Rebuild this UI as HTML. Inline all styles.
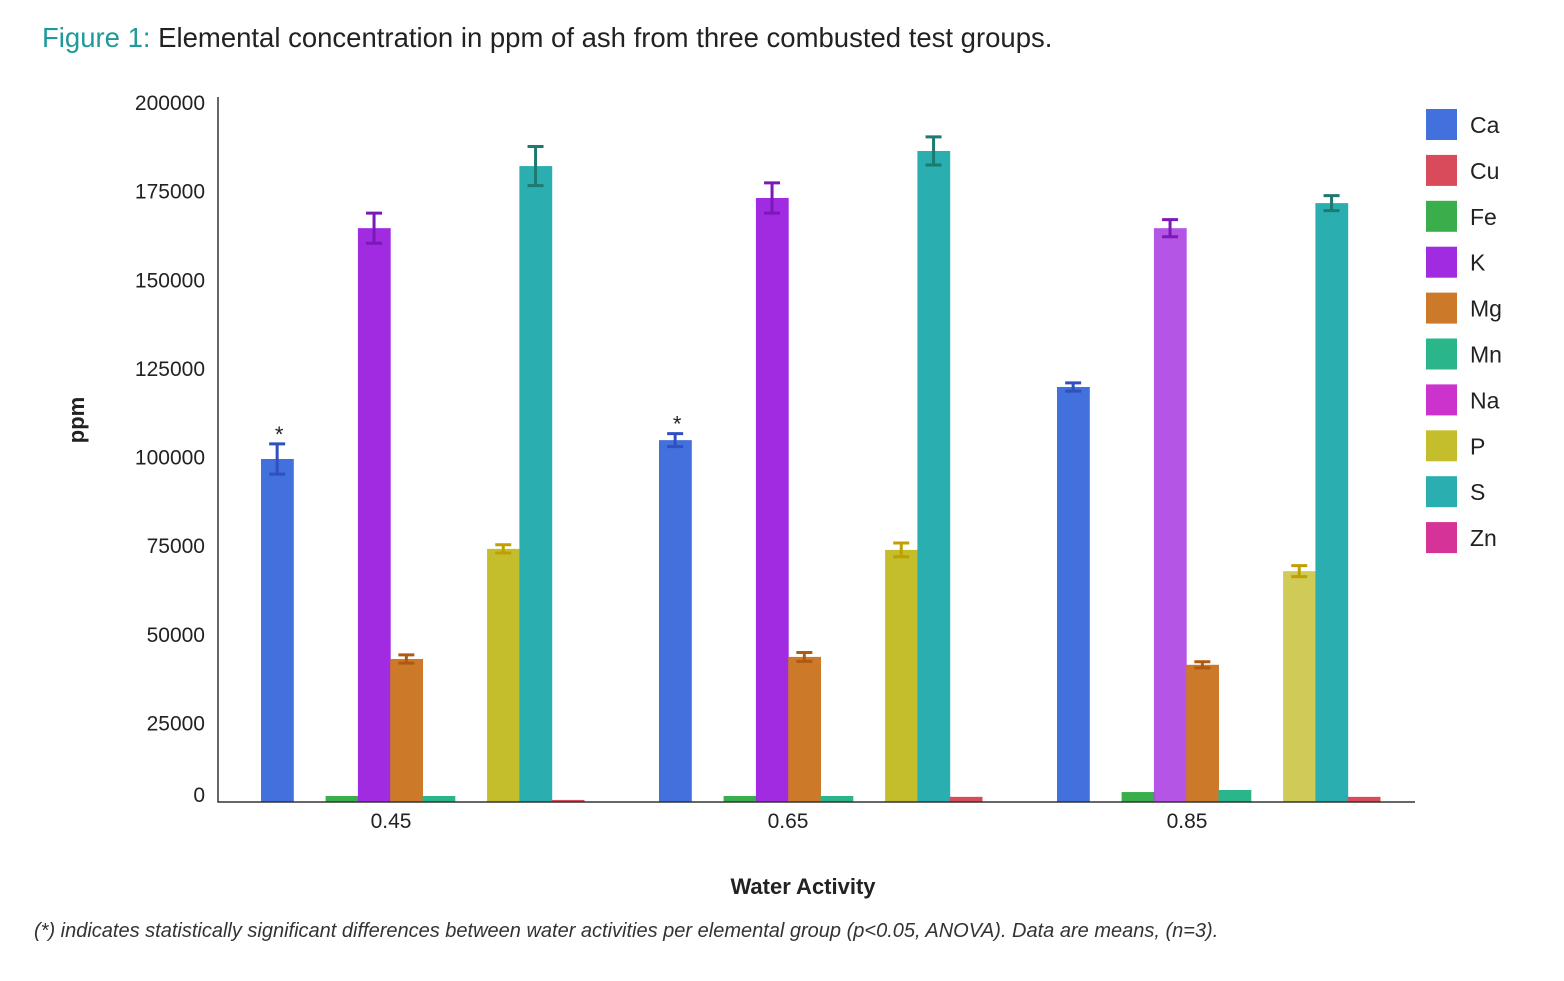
<!DOCTYPE html>
<html><head><meta charset="utf-8"><style>
body{margin:0;background:#fff;width:1564px;height:976px;overflow:hidden;font-family:"Liberation Sans",sans-serif}
</style></head><body>
<svg id="chart" width="1564" height="976" xmlns="http://www.w3.org/2000/svg" font-family="Liberation Sans, sans-serif">
<text x="42" y="47" font-size="27.5" fill="#222"><tspan fill="#1f9a9a">Figure 1:</tspan> Elemental concentration in ppm of ash from three combusted test groups.</text>
<text transform="translate(84,420) rotate(-90)" text-anchor="middle" font-size="22" font-weight="bold" fill="#222">ppm</text>
<text x="803" y="894" text-anchor="middle" font-size="22" font-weight="bold" fill="#222">Water Activity</text>
<text x="34" y="937" font-size="20" font-style="italic" fill="#333">(*) indicates statistically significant differences between water activities per elemental group (p&lt;0.05, ANOVA). Data are means, (n=3).</text>
<g id="plot"></g>
</svg>
<script>
const groups=["0.45","0.65","0.85"];
const elements=["Ca","Cu","Fe","K","Mg","Mn","Na","P","S","Zn"];
const colors=["#4270dd","#d94a5a","#3aae4a","#a12be0","#cc7a2a","#2bb58a","#cc33cc","#c4bd2c","#2aaeb0","#d63399"];
const errColors=["#3050c0","#b03040","#2a8a3a","#7a18b8","#b05a10","#1a9070","#a020a0","#c0a000","#1e7a70","#a02070"];
const vals045=[100000,0,1750,167300,41700,1750,0,73800,185400,600];
const vals065=[105500,0,1750,176100,42300,1750,0,73500,189800,1500];
const vals085=[121000,0,2900,167300,40000,3500,0,67300,174600,1500];
const err045=[4400,0,0,4400,1200,0,0,1200,5700,0];
const err065=[1900,0,0,4400,1300,0,0,2000,4100,0];
const err085=[1200,0,0,2500,900,0,0,1600,2200,0];
const yTicks=[0,25000,50000,75000,100000,125000,150000,175000,200000];
const starGroups=[0,1];
const values=[vals045,vals065,vals085], errs=[err045,err065,err085];
const NS="http://www.w3.org/2000/svg";
const g=document.getElementById('plot');
const base=802, k=0.00343, x0=218;
const y=v=>base-v*k;
const labelY=t=>t===0?802:819-t*0.003545;
const gStart=i=>261+i*398, slot=32.3;
function mk(t,a){const e=document.createElementNS(NS,t);for(const n in a)e.setAttribute(n,a[n]);g.appendChild(e);return e;}
yTicks.forEach(t=>{const e=mk('text',{x:205,y:labelY(t),'text-anchor':'end','font-size':21,fill:'#222'});e.textContent=t;

});
groups.forEach((gr,gi)=>{
 const e=mk('text',{x:[391,788,1187][gi],y:828,'text-anchor':'middle','font-size':21,fill:'#222'});e.textContent=gr;
 
 
 elements.forEach((el,i)=>{const v=values[gi][i];if(v<=0)return;
  const bx=gStart(gi)+i*slot;
  const r=mk('rect',{x:bx,y:y(v),width:slot+0.5,height:base-y(v),fill:(i===9?'#d94a5a':colors[i]),opacity:(gi===2&&(i===3||i===7))?0.8:1});
  
  
  const er=errs[gi][i];if(er>0){const cx=bx+slot/2,c=errColors[i];
   const ln=mk('path',{d:`M${cx},${y(v+er)}V${y(v-er)}M${cx-8},${y(v+er)}H${cx+8}M${cx-8},${y(v-er)}H${cx+8}`,stroke:c,'stroke-width':3,fill:'none'});
   
   }
 });
});
starGroups.forEach(gi=>{const v=values[gi][0]+errs[gi][0];const s=mk('text',{x:gStart(gi)+slot/2+2,y:y(v)-2,'text-anchor':'middle','font-size':22,fill:'#222'});s.textContent='*';

});
const ax=mk('path',{d:`M${x0},97V${base}H1415`,stroke:'#333','stroke-width':1.5,fill:'none'});


elements.forEach((el,i)=>{const ly=109+i*45.9;
 const r=mk('rect',{x:1426,y:ly,width:31,height:31,fill:colors[i]});
 
 
 const t=mk('text',{x:1470,y:ly+24,'font-size':23,fill:'#222'});t.textContent=el;
 
 });
</script>
</body></html>
